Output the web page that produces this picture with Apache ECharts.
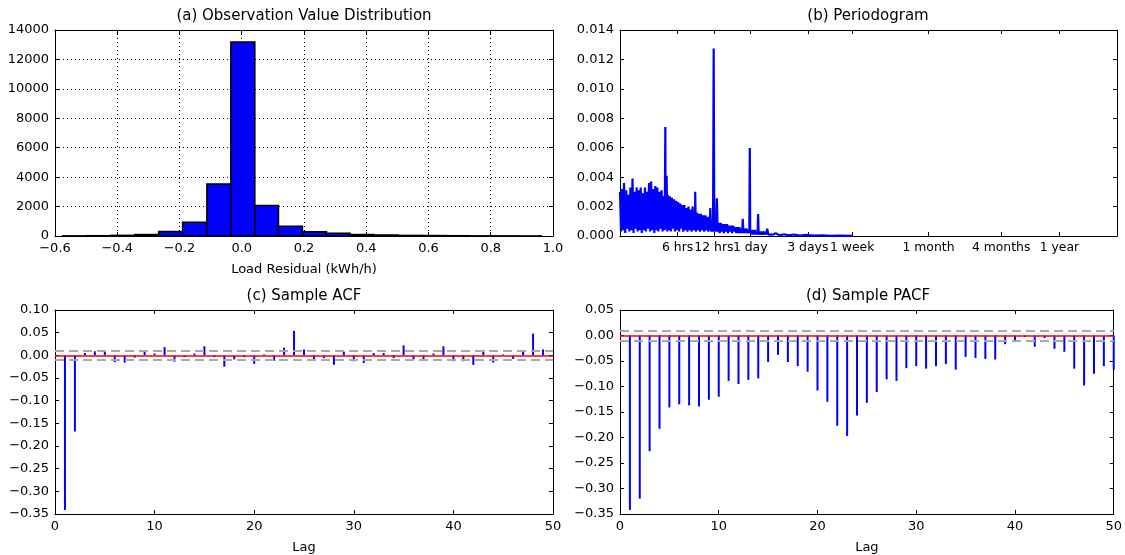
<!DOCTYPE html>
<html>
<head>
<meta charset="utf-8">
<script src="https://cdn.jsdelivr.net/npm/echarts@6/dist/echarts.min.js"></script>
<style>
html,body{margin:0;padding:0;background:#fff;}
#chart{width:1125px;height:555px;}
</style>
</head>
<body>
<div id="chart"></div>
<script>
// ---------- DATA ----------
// (a) histogram of load residuals
const histEdges = [-0.575, -0.498, -0.421, -0.344, -0.267, -0.190, -0.112, -0.035, 0.042, 0.118, 0.195,
                   0.272, 0.348, 0.425, 0.502, 0.579, 0.656, 0.733, 0.810, 0.886, 0.963];
const histCounts = [10, 20, 45, 100, 300, 940, 3540, 13180, 2080, 660, 290, 190, 100, 70, 40, 30, 20, 10, 8, 5];

// (b) periodogram: [period in hours, power]
const periodogramPoints = [
  [2.00,.0030],[2.04,.0003],[2.08,.0032],[2.12,.0004],[2.16,.0036],[2.21,.0002],[2.25,.0031],[2.30,.0005],
  [2.34,.0028],[2.39,.0003],[2.44,.0033],[2.49,.0004],[2.54,.0039],[2.59,.0002],[2.64,.0030],[2.69,.0005],
  [2.75,.0033],[2.80,.0003],[2.86,.0031],[2.91,.0004],[2.97,.0033],[3.03,.0002],[3.09,.0029],[3.15,.0004],
  [3.22,.0033],[3.28,.0003],[3.35,.0030],[3.41,.0005],[3.48,.0036],[3.55,.0003],[3.62,.0037],[3.70,.0004],
  [3.77,.0032],[3.85,.0002],[3.92,.0034],[4.00,.0004],[4.08,.0033],[4.16,.0003],[4.25,.0030],[4.33,.0005],
  [4.42,.0031],[4.51,.0003],[4.60,.0027],[4.69,.0004],[4.75,.0074],[4.78,.0005],[4.87,.0041],[4.93,.0003],
  [4.97,.0028],[5.07,.0004],[5.17,.0027],[5.28,.0003],[5.38,.0026],[5.49,.0005],[5.60,.0025],[5.71,.0003],
  [5.83,.0024],[5.94,.0004],[6.06,.0023],[6.18,.0003],[6.31,.0022],[6.43,.0005],[6.56,.0021],[6.69,.0003],
  [6.83,.0021],[6.96,.0004],[7.10,.0019],[7.25,.0003],[7.39,.0020],[7.54,.0004],[7.69,.0018],[7.84,.0003],
  [8.00,.0020],[8.16,.0004],[8.33,.0016],[8.37,.0004],[8.40,.0030],[8.50,.0003],[8.67,.0016],[8.84,.0004],
  [9.02,.0015],[9.20,.0003],[9.38,.0015],[9.57,.0004],[9.76,.0014],[9.96,.0003],[10.2,.0014],[10.4,.0004],
  [10.6,.0013],[10.8,.0003],[11.0,.0013],[11.1,.0004],[11.2,.0019],[11.4,.0003],[11.6,.0011],[11.8,.0003],
  [11.95,.01275],[12.1,.0003],[12.3,.0010],[12.5,.0003],[12.7,.00257],[12.9,.0003],[13.1,.0009],[13.4,.0002],
  [13.7,.0009],[13.9,.0003],[14.2,.0008],[14.5,.0002],[14.8,.0008],[15.1,.0003],[15.4,.0008],[15.7,.0002],
  [16.0,.0007],[16.3,.0003],[16.6,.0007],[17.0,.0002],[17.3,.0007],[17.6,.0003],[18.0,.0006],[18.4,.0002],
  [18.7,.0006],[19.1,.0002],[19.5,.0006],[19.9,.0002],[20.3,.0005],[20.6,.0002],[20.8,.00116],[21.1,.0002],
  [21.5,.0005],[21.9,.0002],[22.4,.0005],[22.8,.0002],[23.3,.0004],[23.6,.0002],[23.8,.00598],[24.0,.0002],
  [24.2,.0004],[24.7,.0001],[25.2,.0004],[25.7,.0001],[26.2,.0004],[26.8,.0001],[27.3,.0003],[27.6,.0001],
  [27.9,.0015],[28.2,.0001],[28.4,.0003],[29.0,.0001],[29.5,.0003],[30.1,.0001],[30.7,.0003],[31.3,.0001],
  [32.0,.0003],[32.6,.0001],[33.2,.0005],[33.9,.0001],[35,.0002],[37,.0001],[39,.00018],[42,.00005],
  [46,.00012],[50,.00004],[55,.0001],[62,.00003],[70,.00008],[80,.00002],[95,.00005],[110,.00001],
  [130,.00003],[168,.00001]
];
const periodTickHours = [6, 12, 24, 72, 168, 720, 2880, 8760];
const periodTickNames = ['6 hrs', '12 hrs', '1 day', '3 days', '1 week', '1 month', '4 months', '1 year'];

// (c) sample ACF, (d) sample PACF
const acfLags = [1,2,3,4,5,6,7,8,9,10,11,12,13,14,15,16,17,18,19,20,21,22,23,24,25,26,27,28,29,30,
                 31,32,33,34,35,36,37,38,39,40,41,42,43,44,45,46,47,48,49];
const acfValues = [-0.341, -0.168, 0.005, 0.009, 0.009, -0.015, -0.016, -0.005, 0.011, 0.004, 0.018, -0.014,
  -0.004, 0.004, 0.020, -0.004, -0.025, -0.009, -0.004, -0.019, 0.002, -0.012, 0.017, 0.054, 0.013, -0.011,
  -0.006, -0.021, 0.008, -0.013, -0.017, 0.005, 0.005, -0.006, 0.022, -0.009, -0.008, 0.004, 0.020, -0.013,
  -0.013, -0.021, 0.012, -0.016, 0.002, -0.008, 0.009, 0.048, 0.013];
const pacfLags = [1,2,3,4,5,6,7,8,9,10,11,12,13,14,15,16,17,18,19,20,21,22,23,24,25,26,27,28,29,30,
                  31,32,33,34,35,36,37,38,39,40,41,42,43,44,45,46,47,48,49,50];
const pacfValues = [-0.342, -0.320, -0.227, -0.183, -0.141, -0.135, -0.137, -0.139, -0.126, -0.120, -0.089,
  -0.095, -0.087, -0.084, -0.052, -0.038, -0.052, -0.060, -0.071, -0.108, -0.130, -0.177, -0.197, -0.157,
  -0.132, -0.111, -0.086, -0.089, -0.064, -0.060, -0.065, -0.060, -0.056, -0.067, -0.042, -0.044, -0.046,
  -0.047, -0.017, -0.013, -0.003, -0.022, -0.005, -0.026, -0.032, -0.065, -0.098, -0.075, -0.060, -0.067];
const confBound = 0.0125;

// ---------- CHART ----------
const FONT = 'DejaVu Sans';
const minusFmt = (s) => String(s).replace('-', '\u2212');
const chart = echarts.init(document.getElementById('chart'), null, {renderer: 'canvas'});

const grids = [
  {left: 55, top: 30, width: 498, height: 206},
  {left: 620, top: 30, width: 497, height: 206},
  {left: 55, top: 310, width: 498, height: 204},
  {left: 620, top: 310, width: 497, height: 204}
];

const lineBlack = {show: true, onZero: false, lineStyle: {color: '#000', width: 1}};
const tickIn = {show: true, inside: true, length: 4, lineStyle: {color: '#000', width: 1}};
const lbl = {color: '#000', fontSize: 13, fontFamily: FONT, hideOverlap: false, showMinLabel: true, showMaxLabel: true};
const dotted = {show: true, lineStyle: {color: '#000', type: [1, 3], width: 1}};

function xPair(grid, base, name) {
  const bottom = Object.assign({
    gridIndex: grid, position: 'bottom', axisLine: lineBlack, axisTick: tickIn,
    axisLabel: Object.assign({margin: 6}, lbl, base.axisLabel || {}),
    splitLine: base.splitLine || {show: false},
    name: name || '', nameLocation: 'middle', nameGap: 27,
    nameTextStyle: {color: '#000', fontSize: 13, fontFamily: FONT}
  }, base.core);
  const top = Object.assign({
    gridIndex: grid, position: 'top', axisLine: lineBlack,
    axisTick: Object.assign({}, tickIn, base.tickExtra || {}),
    axisLabel: {show: false}, splitLine: {show: false}
  }, base.core);
  if (base.tickExtra) bottom.axisTick = Object.assign({}, tickIn, base.tickExtra);
  return [bottom, top];
}
function yPair(grid, base) {
  const left = Object.assign({
    gridIndex: grid, position: 'left', axisLine: lineBlack, axisTick: tickIn,
    axisLabel: Object.assign({margin: 6}, lbl, base.axisLabel || {}),
    splitLine: base.splitLine || {show: false}
  }, base.core);
  const right = Object.assign({
    gridIndex: grid, position: 'right', axisLine: lineBlack, axisTick: tickIn,
    axisLabel: {show: false}, splitLine: {show: false}
  }, base.core);
  return [left, right];
}

const xAxes = [].concat(
  xPair(0, {core: {type: 'value', min: -0.6, max: 1.0, interval: 0.2},
            axisLabel: {formatter: v => minusFmt(v.toFixed(1))}, splitLine: dotted}, 'Load Residual (kWh/h)'),
  xPair(1, {core: {type: 'log', logBase: 10, min: 2, max: 26280},
            axisLabel: {customValues: periodTickHours, hideOverlap: false, interval: 0, showMinLabel: true, showMaxLabel: true,
                        fontSize: 12.4,
                        formatter: v => { const i = periodTickHours.findIndex(p => Math.abs(p - v) / p < 1e-6); return i >= 0 ? periodTickNames[i] : ''; }},
            tickExtra: {customValues: periodTickHours}}),
  xPair(2, {core: {type: 'value', min: 0, max: 50, interval: 10}}, 'Lag'),
  xPair(3, {core: {type: 'value', min: 0, max: 50, interval: 10}}, 'Lag')
);
const yAxes = [].concat(
  yPair(0, {core: {type: 'value', min: 0, max: 14000, interval: 2000}, splitLine: dotted,
            axisLabel: {formatter: v => String(v)}}),
  yPair(1, {core: {type: 'value', min: 0, max: 0.014, interval: 0.002}, axisLabel: {formatter: v => v.toFixed(3)}}),
  yPair(2, {core: {type: 'value', min: -0.35, max: 0.10, interval: 0.05}, axisLabel: {formatter: v => minusFmt(v.toFixed(2))}}),
  yPair(3, {core: {type: 'value', min: -0.35, max: 0.05, interval: 0.05}, axisLabel: {formatter: v => minusFmt(v.toFixed(2))}})
);

const histData = histCounts.map((c, i) => [histEdges[i], histEdges[i + 1], c]);
const acfData = acfLags.map((l, i) => [l, acfValues[i]]);
const pacfData = pacfLags.map((l, i) => [l, pacfValues[i]]);

function refLines() {
  return {
    silent: true, symbol: ['none', 'none'], animation: false, label: {show: false},
    data: [
      {yAxis: confBound, lineStyle: {color: '#a9a9a9', type: [9, 5], width: 2}},
      {yAxis: -confBound, lineStyle: {color: '#a9a9a9', type: [9, 5], width: 2}},
      {yAxis: 0, lineStyle: {color: '#ff0000', type: 'solid', width: 1.5}}
    ]
  };
}

const titleBase = {textStyle: {color: '#000', fontSize: 15, fontWeight: 'normal', fontFamily: FONT}, padding: 0, textAlign: 'center'};
const option = {
  animation: false,
  backgroundColor: '#fff',
  title: [
    Object.assign({text: '(a) Observation Value Distribution', left: 304, top: 9}, titleBase),
    Object.assign({text: '(b) Periodogram', left: 868, top: 9}, titleBase),
    Object.assign({text: '(c) Sample ACF', left: 304, top: 289}, titleBase),
    Object.assign({text: '(d) Sample PACF', left: 868, top: 289}, titleBase)
  ],
  grid: grids,
  xAxis: xAxes,
  yAxis: yAxes,
  series: [
    {
      type: 'custom', xAxisIndex: 0, yAxisIndex: 0, data: histData,
      encode: {x: [0, 1], y: 2},
      renderItem: function (params, api) {
        const p0 = api.coord([api.value(0), api.value(2)]);
        const p1 = api.coord([api.value(1), 0]);
        return {
          type: 'rect',
          shape: {x: p0[0], y: p0[1], width: p1[0] - p0[0], height: p1[1] - p0[1]},
          style: {fill: '#0000ff', stroke: '#000', lineWidth: 1.5}
        };
      }
    },
    {
      type: 'line', xAxisIndex: 2, yAxisIndex: 2, data: periodogramPoints,
      showSymbol: false, symbol: 'none', clip: true,
      lineStyle: {color: '#0000ff', width: 2.2, join: 'bevel'}
    },
    {
      type: 'bar', xAxisIndex: 4, yAxisIndex: 4, data: acfData, barWidth: 2,
      itemStyle: {color: '#0000ff'}, markLine: refLines()
    },
    {
      type: 'bar', xAxisIndex: 6, yAxisIndex: 6, data: pacfData, barWidth: 2,
      itemStyle: {color: '#0000ff'}, markLine: refLines()
    }
  ]
};
chart.setOption(option);
</script>
</body>
</html>
